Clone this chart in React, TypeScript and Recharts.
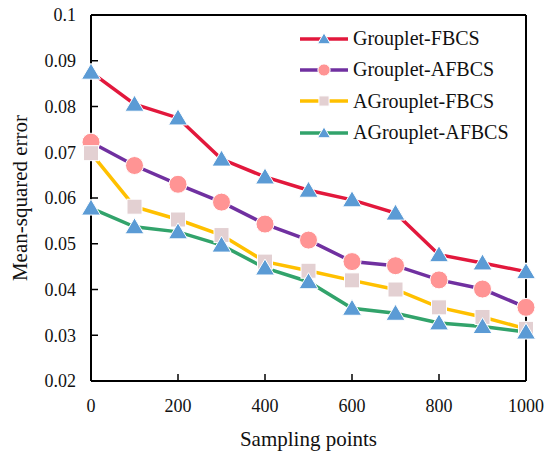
import { LineChart, Line, XAxis, YAxis, Legend, ReferenceLine, Label } from "recharts";

const samplingPoints = [0, 100, 200, 300, 400, 500, 600, 700, 800, 900, 1000];
const groupletFBCS = [0.0875, 0.0805, 0.0775, 0.0685, 0.0646, 0.0617, 0.0596, 0.0567, 0.0476, 0.0458, 0.0439];
const groupletAFBCS = [0.0722, 0.0671, 0.063, 0.0591, 0.0543, 0.0508, 0.0461, 0.0452, 0.0421, 0.0401, 0.0361];
const agroupletFBCS = [0.0698, 0.0581, 0.0553, 0.0519, 0.0461, 0.0441, 0.042, 0.04, 0.0361, 0.034, 0.0314];
const agroupletAFBCS = [0.0578, 0.0537, 0.0526, 0.0497, 0.0447, 0.0417, 0.0359, 0.0348, 0.0327, 0.0319, 0.0307];

const xTicks = [0, 200, 400, 600, 800, 1000];
const yTicks = [0.02, 0.03, 0.04, 0.05, 0.06, 0.07, 0.08, 0.09, 0.1];

const FONT = "Liberation Serif, Times New Roman, serif";

const SERIES = [
  { key: "gf", name: "Grouplet-FBCS", color: "#E2183C", marker: "triangle", values: groupletFBCS },
  { key: "gaf", name: "Grouplet-AFBCS", color: "#7030A0", marker: "circle", values: groupletAFBCS },
  { key: "agf", name: "AGrouplet-FBCS", color: "#FFC000", marker: "square", values: agroupletFBCS },
  { key: "agaf", name: "AGrouplet-AFBCS", color: "#32A36B", marker: "triangle", values: agroupletAFBCS },
];

const data = samplingPoints.map((x, i) => {
  const row: any = { x };
  SERIES.forEach((s) => (row[s.key] = s.values[i]));
  return row;
});

function Marker({ shape, cx, cy, scale = 1 }: any) {
  if (cx == null || cy == null) return null;
  if (shape === "circle") {
    return <circle cx={cx} cy={cy} r={9 * scale} fill="#FF9494" stroke="#fff" strokeWidth={1} />;
  }
  if (shape === "square") {
    const h = 7.5 * scale;
    return <rect x={cx - h} y={cy - h} width={2 * h} height={2 * h} fill="#E3D0D2" stroke="#fff" strokeWidth={1} />;
  }
  const w = 9.5 * scale;
  const pts = `${cx},${cy - 9 * scale} ${cx + w},${cy + 7 * scale} ${cx - w},${cy + 7 * scale}`;
  return <polygon points={pts} fill="#5B9BD5" stroke="#fff" strokeWidth={1} />;
}

const LegendContent = () => (
  <div style={{ fontFamily: FONT }}>
    {SERIES.map((s) => (
      <div key={s.key} style={{ display: "flex", alignItems: "center", height: 31.3 }}>
        <svg width={48} height={24} style={{ display: "block" }}>
          <line x1={0} x2={48} y1={12} y2={12} stroke={s.color} strokeWidth={3.5} />
          <Marker shape={s.marker} cx={24} cy={12} scale={0.68} />
        </svg>
        <span style={{ marginLeft: 5, fontSize: 20, color: "#111", whiteSpace: "nowrap" }}>{s.name}</span>
      </div>
    ))}
  </div>
);

export default function App() {
  return (
    <div style={{ position: "absolute", left: 0, top: 0, background: "#fff", fontFamily: FONT }}>
      <style>{`.recharts-wrapper svg text { font-family: "Liberation Serif", "Times New Roman", serif; }`}</style>
      <LineChart
        width={548}
        height={453}
        data={data}
        margin={{ top: 15, right: 22, left: 0, bottom: 0 }}
      >
        <XAxis
          dataKey="x"
          type="number"
          domain={[0, 1000]}
          ticks={xTicks}
          interval={0}
          height={72}
          tickSize={-7}
          tickMargin={25}
          axisLine={{ stroke: "#000", strokeWidth: 2 }}
          tickLine={{ stroke: "#000", strokeWidth: 1.5 }}
          tick={{ fill: "#111", fontSize: 18 }}
        >
          <Label value="Sampling points" position="insideBottom" offset={7} style={{ fill: "#111", fontSize: 21 }} />
        </XAxis>
        <YAxis
          type="number"
          domain={[0.02, 0.1]}
          ticks={yTicks}
          interval={0}
          width={91}
          tickSize={-7}
          tickMargin={22}
          axisLine={{ stroke: "#000", strokeWidth: 2 }}
          tickLine={{ stroke: "#000", strokeWidth: 1.5 }}
          tick={{ fill: "#111", fontSize: 18 }}
          tickFormatter={(v: number) => String(v)}
        >
          <Label
            value="Mean-squared error"
            angle={-90}
            position="insideLeft"
            offset={20}
            style={{ textAnchor: "middle", fill: "#111", fontSize: 21 }}
          />
        </YAxis>
        <ReferenceLine y={0.1} stroke="#000" strokeWidth={2} />
        <ReferenceLine x={1000} stroke="#000" strokeWidth={2} />
        {SERIES.map((s) => (
          <Line
            key={s.key}
            dataKey={s.key}
            name={s.name}
            type="linear"
            stroke={s.color}
            strokeWidth={3.5}
            isAnimationActive={false}
            activeDot={false}
            dot={(p: any) => <Marker key={`${s.key}-${p.index}`} shape={s.marker} cx={p.cx} cy={p.cy} />}
          />
        ))}
        <Legend
          layout="horizontal"
          verticalAlign="middle"
          align="center"
          content={<LegendContent />}
          wrapperStyle={{ left: 300, top: 23, width: "auto" }}
        />
      </LineChart>
    </div>
  );
}
